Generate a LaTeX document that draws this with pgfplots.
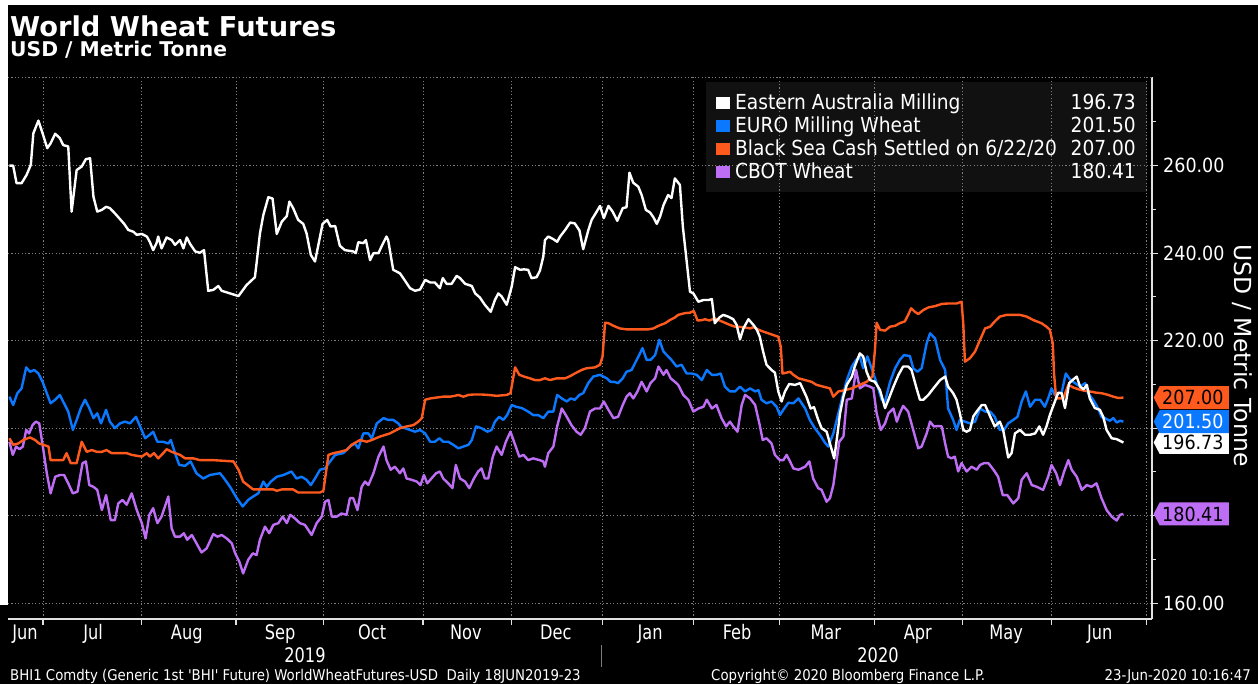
\documentclass[border=0pt]{standalone}
\usepackage{pgfplots}
\pgfplotsset{compat=1.18}
\usepackage{fontspec}
\setmainfont{DejaVu Sans Condensed}
\newfontfamily\tfont{DejaVu Sans}
\newfontfamily\mfont{DejaVu Sans Condensed}[FakeStretch=0.9]
\definecolor{cblue}{RGB}{10,120,255}
\definecolor{corange}{RGB}{255,90,30}
\definecolor{cpurple}{RGB}{190,110,245}
\definecolor{gridc}{RGB}{125,125,125}
\definecolor{legbg}{RGB}{17,17,17}
\definecolor{axc}{RGB}{225,225,225}
\newcommand{\fs}[1]{\fontsize{#1}{#1}\selectfont}
\newcommand{\vtag}[3]{%
  \fill[#1] ([xshift=1.7pt]axis cs:272.8,#2) -- ++(6pt,11.5pt) -- ++(69.3pt,0pt) -- ++(0pt,-23pt) -- ++(-69.3pt,0pt) -- cycle;
  \node[anchor=west, inner sep=0pt, text=#3, font=\fs{19.5}] at ([xshift=10pt]axis cs:272.8,#2) {#2};}
\begin{document}
\begin{tikzpicture}
\fill[black] (0pt,0pt) rectangle (1258pt,684pt);
\fill[white] (0pt,79pt) rectangle (8pt,684pt);
\fill[white] (0pt,679pt) rectangle (1258pt,684pt);
\fill[legbg] (706pt,602pt) rectangle (1147pt,492pt);
\begin{axis}[
  at={(8pt,65pt)}, anchor=south west,
  width=1144pt, height=542pt, scale only axis,
  xmin=0.67, xmax=272.8, ymin=156.39, ymax=280.27,
  axis x line*=bottom, axis y line*=right,
  axis line style={draw=axc, line width=1.3pt, -},
  xtick={9,32.5,54.9,75.8,99.4,120.5,142,163.8,184.1,206.7,227.8,249,271.4},
  xticklabels={},
  ytick={160,180,200,220,240,260},
  yticklabels={160.00,,,220.00,240.00,260.00},
  minor ytick={170,190,210,230,250,270},
  tick align=outside, major tick length=6pt, minor tick length=4pt,
  tick style={draw=axc, line width=1.1pt},
  grid=major,
  grid style={draw=gridc, line width=0.9pt, dash pattern=on 1.2pt off 2.2pt},
  yticklabel style={font=\fs{19.5}, text=white, anchor=west, inner sep=0pt, xshift=5pt},
  extra x ticks={4.7,20.9,43.2,65.4,87.3,109.6,131.0,153.4,174.1,195.2,217.1,238.1,260.4},
  extra x tick labels={Jun,Jul,Aug,Sep,Oct,Nov,Dec,Jan,Feb,Mar,Apr,May,Jun},
  extra x tick style={grid=none, major tick length=0pt,
    tick label style={font=\mfont\fs{20}, text=white, anchor=base, inner sep=0pt, yshift=-21pt}},
  clip mode=individual,
]
\draw[draw=gridc, line width=0.9pt, dash pattern=on 1.2pt off 2.2pt] (rel axis cs:0,1) -- (rel axis cs:1,1);
% CBOT Wheat
\addplot[cpurple, line width=2.4pt, line join=round] coordinates {
(1.0,196.9) (1.8,193.9) (2.6,195.8) (3.4,195.2) (4.2,195.8) (5.0,199.6) (5.7,198.8) (6.5,200.7) (7.3,201.5) (8.1,201.1) (8.9,196.2) (9.9,189.7) (10.8,185.1) (11.9,188.9) (13.0,189.3) (14.0,189.3) (15.0,187.4) (16.1,185.1) (17.2,185.5) (18.4,192.0) (19.2,192.4) (20.0,187.0) (21.0,186.6) (21.9,185.9) (23.0,181.3) (24.0,184.7) (25.1,179.0) (26.1,179.0) (26.9,182.8) (27.9,183.6) (28.9,182.5) (30.1,185.1) (31.3,181.3) (32.5,178.3) (33.4,174.8) (34.3,180.2) (35.2,181.7) (36.2,178.3) (37.2,179.8) (38.8,184.4) (39.6,177.1) (40.4,175.2) (41.6,175.2) (42.5,176.0) (43.3,174.5) (44.4,175.6) (45.5,173.7) (46.7,171.6) (47.9,172.5) (49.5,175.8) (50.5,175.2) (51.5,175.6) (52.7,174.8) (53.9,173.7) (54.7,171.4) (55.7,169.5) (56.6,166.8) (57.8,169.9) (58.9,171.4) (59.8,171.0) (60.6,174.5) (61.8,177.5) (62.8,176.0) (63.8,177.9) (65.0,178.3) (66.0,179.8) (67.0,178.3) (67.8,180.2) (68.9,179.4) (70.1,178.3) (71.3,177.9) (72.9,175.6) (74.1,178.3) (75.3,179.8) (76.1,183.2) (76.9,183.6) (77.7,179.8) (78.9,179.8) (80.0,180.5) (81.2,180.2) (82.0,184.0) (82.8,184.0) (83.8,181.3) (84.8,186.6) (85.6,187.8) (86.4,187.0) (87.6,189.7) (88.8,193.5) (90.0,195.8) (90.7,192.7) (91.7,190.5) (92.7,191.2) (93.9,189.7) (94.7,190.8) (95.5,188.5) (96.7,188.2) (97.9,187.8) (98.8,187.0) (99.6,189.3) (100.4,187.4) (101.4,188.5) (102.5,189.7) (103.4,190.1) (104.2,188.5) (105.4,187.4) (106.4,186.3) (107.2,191.6) (108.2,188.5) (109.4,187.8) (110.4,186.3) (111.5,188.5) (112.5,190.1) (113.3,190.8) (114.1,188.5) (114.9,188.5) (116.0,193.5) (116.9,195.8) (118.1,193.9) (119.1,196.9) (120.2,199.2) (121.3,196.2) (122.3,193.5) (123.3,193.9) (124.4,192.7) (125.6,193.1) (127.1,192.7) (128.0,192.4) (128.4,191.2) (129.2,194.3) (130.4,195.8) (131.3,200.4) (132.4,204.5) (133.6,202.6) (134.7,200.7) (135.9,199.2) (136.9,198.5) (137.9,200.0) (139.1,203.8) (140.3,204.5) (141.5,204.5) (142.4,206.1) (143.5,204.2) (144.7,202.3) (145.8,202.6) (146.9,205.3) (147.8,207.2) (148.6,208.0) (149.4,206.8) (150.4,208.4) (151.4,210.6) (152.6,208.4) (153.5,210.3) (154.6,211.4) (155.4,214.1) (156.6,212.2) (157.3,213.3) (158.3,211.4) (159.3,210.6) (160.1,209.9) (161.3,207.6) (162.5,206.5) (163.7,203.8) (164.9,204.5) (166.1,204.9) (166.9,206.5) (168.1,204.5) (169.2,205.3) (170.4,202.3) (171.5,200.4) (172.4,201.5) (173.2,200.4) (174.2,199.2) (175.2,205.3) (176.0,207.6) (177.2,206.8) (178.4,205.3) (179.4,201.1) (180.2,197.3) (181.1,197.7) (182.3,196.5) (183.1,193.9) (184.3,192.7) (185.1,192.7) (185.9,193.9) (186.7,192.4) (187.5,190.8) (188.7,190.5) (190.3,191.2) (191.3,192.4) (192.2,188.5) (193.4,186.3) (194.2,185.9) (195.4,183.2) (196.2,184.0) (197.0,187.0) (197.8,192.7) (198.4,196.9) (199.4,198.1) (200.2,206.5) (201.4,206.8) (202.4,213.3) (203.3,209.1) (204.5,209.9) (205.7,209.5) (206.5,209.1) (207.3,203.4) (208.3,199.6) (209.3,201.1) (210.1,203.4) (211.3,204.5) (212.1,201.5) (212.8,203.4) (213.6,205.1) (214.8,203.8) (216.0,199.6) (217.2,195.4) (218.0,195.8) (219.2,198.8) (220.0,201.5) (220.9,200.4) (222.0,200.5) (222.8,200.4) (223.6,196.5) (224.3,193.5) (225.1,193.1) (225.9,193.5) (226.7,190.1) (227.5,192.0) (228.7,190.1) (229.9,191.2) (231.1,190.5) (231.9,191.6) (232.8,192.0) (233.9,192.0) (235.1,190.5) (236.2,188.9) (237.3,184.7) (238.4,184.7) (239.8,182.8) (241.0,184.0) (241.8,188.2) (243.0,189.7) (244.2,187.0) (245.4,186.6) (246.9,185.9) (248.1,188.9) (248.9,191.6) (250.0,189.7) (250.9,187.0) (251.9,190.1) (252.9,192.7) (253.7,190.5) (254.9,188.9) (256.1,185.9) (257.3,187.0) (258.4,186.6) (259.6,187.4) (260.8,184.0) (262.0,181.3) (263.2,179.8) (264.4,178.9) (265.2,180.2) (266.0,180.41)};
% EURO Milling Wheat
\addplot[cblue, line width=2.4pt, line join=round] coordinates {
(1.0,207.2) (1.9,205.3) (2.9,208.0) (3.9,209.1) (5.0,213.9) (5.9,212.9) (6.9,213.3) (7.9,212.5) (8.9,210.6) (9.9,208.0) (10.8,205.7) (11.9,206.5) (13.0,207.6) (14.0,205.7) (15.0,203.8) (16.1,199.6) (17.0,201.9) (18.0,204.6) (19.0,206.5) (20.0,204.6) (21.0,202.3) (21.9,203.4) (22.8,201.1) (24.0,204.2) (24.9,201.5) (26.1,200.0) (27.3,201.1) (28.5,201.5) (29.7,201.1) (31.1,202.6) (32.1,200.4) (33.3,197.7) (34.4,198.5) (35.2,199.2) (36.2,196.9) (37.6,196.9) (38.8,196.5) (39.4,197.3) (40.4,194.3) (41.4,191.6) (42.8,191.4) (44.1,192.4) (45.5,189.7) (47.1,188.5) (48.7,189.3) (51.1,189.7) (52.1,188.5) (53.5,186.6) (55.1,184.0) (56.5,182.1) (57.8,183.6) (59.0,184.4) (60.2,185.1) (61.4,187.8) (62.2,186.6) (63.2,187.8) (64.6,188.9) (66.2,189.3) (68.1,190.1) (69.3,188.5) (70.5,188.9) (71.7,188.2) (72.7,187.0) (73.7,188.5) (74.9,190.5) (76.1,190.8) (77.3,192.4) (78.5,193.9) (80.4,194.3) (82.0,195.8) (83.2,196.5) (84.0,195.4) (85.2,198.8) (86.4,198.8) (87.2,197.7) (88.4,201.1) (90.0,202.3) (91.1,201.9) (92.3,201.9) (93.5,201.1) (94.3,200.2) (95.1,200.0) (96.3,199.6) (97.5,199.2) (98.7,199.6) (99.9,198.8) (101.1,196.9) (102.2,196.9) (103.3,197.7) (104.2,196.9) (105.4,196.9) (106.6,196.2) (107.8,195.4) (109.0,195.8) (110.2,196.2) (111.0,197.3) (112.0,200.4) (113.3,200.0) (114.7,199.2) (115.7,199.6) (116.5,201.5) (117.5,202.6) (118.5,201.9) (119.4,203.0) (120.5,205.3) (121.5,204.9) (122.9,204.6) (124.4,203.8) (125.6,203.0) (126.8,203.0) (128.0,202.3) (129.2,203.8) (130.4,203.8) (131.3,207.6) (132.4,206.8) (133.6,206.1) (134.5,206.8) (135.5,206.5) (136.6,207.6) (137.5,208.0) (138.7,210.3) (139.9,211.8) (141.5,212.2) (143.1,211.4) (144.0,210.6) (144.8,210.6) (145.8,210.3) (146.9,211.4) (147.8,212.9) (149.0,213.3) (149.8,214.8) (150.8,216.7) (151.6,218.3) (152.6,215.6) (153.5,215.6) (154.6,216.7) (155.6,220.2) (156.6,217.5) (157.7,216.4) (158.5,215.6) (159.7,214.1) (160.9,214.5) (162.1,212.5) (163.3,212.5) (164.5,212.2) (165.7,211.0) (166.9,213.3) (168.1,212.2) (169.2,212.2) (170.2,212.5) (171.2,209.5) (172.4,208.4) (173.6,208.4) (174.8,209.5) (176.0,208.4) (177.2,209.1) (178.4,208.4) (179.2,208.7) (179.9,206.5) (181.1,205.7) (182.3,206.1) (183.5,204.9) (184.3,203.0) (185.1,204.2) (186.3,205.8) (187.5,205.7) (188.7,206.8) (190.3,204.5) (191.4,201.9) (192.6,200.0) (193.8,198.5) (195.0,196.7) (195.8,195.8) (197.0,198.8) (198.2,203.4) (199.4,208.0) (200.2,211.0) (201.4,214.1) (202.4,215.6) (203.3,216.4) (204.1,213.7) (205.1,216.4) (206.1,213.7) (207.3,210.3) (208.5,206.5) (209.3,206.1) (210.5,210.6) (211.7,213.7) (212.8,215.6) (213.8,216.7) (215.2,216.5) (216.0,213.7) (217.0,212.9) (218.0,213.7) (219.2,219.4) (220.0,221.7) (221.2,220.5) (222.4,215.6) (223.6,213.3) (224.3,204.5) (225.5,201.9) (226.3,199.6) (227.1,201.9) (228.3,201.5) (229.5,201.1) (230.7,201.5) (231.9,204.5) (233.1,203.8) (234.3,203.8) (235.4,202.6) (236.6,199.6) (237.6,199.6) (238.6,201.1) (239.8,201.9) (240.8,202.6) (241.8,206.1) (242.8,208.4) (243.8,204.9) (245.0,206.5) (246.2,206.5) (247.3,204.9) (248.1,206.8) (248.9,209.1) (249.7,207.6) (250.5,208.0) (251.3,208.1) (252.3,212.5) (253.4,211.0) (254.5,210.3) (255.7,209.5) (256.9,210.3) (257.6,208.0) (258.8,206.5) (260.0,204.5) (260.8,202.6) (261.6,202.3) (262.8,201.7) (263.6,202.3) (264.4,201.3) (265.2,201.7) (266.0,201.5)};
% Black Sea
\addplot[corange, line width=2.4pt, line join=round] coordinates {
(1.0,197.7) (1.9,196.2) (3.1,196.5) (4.3,197.3) (5.9,197.9) (7.1,197.3) (8.1,196.5) (9.1,196.2) (10.3,195.8) (10.8,192.7) (11.9,192.7) (13.8,192.7) (14.6,194.3) (15.6,192.0) (17.0,192.0) (18.2,196.9) (19.4,194.6) (20.6,195.0) (21.8,194.6) (23.0,194.6) (24.1,195.0) (25.3,194.3) (28.9,194.3) (30.1,193.9) (31.3,193.7) (32.5,193.5) (33.7,194.3) (34.4,193.5) (35.4,194.3) (36.4,193.1) (37.6,194.3) (38.4,195.2) (39.6,194.6) (41.6,193.9) (42.8,193.1) (44.8,193.1) (46.3,192.7) (49.5,192.7) (54.3,192.4) (55.5,190.5) (56.6,187.8) (59.0,186.0) (63.8,186.0) (64.6,185.7) (65.8,186.0) (68.5,186.0) (69.7,185.3) (74.9,185.3) (75.7,185.7) (76.9,193.9) (78.1,194.3) (79.6,194.6) (81.2,195.0) (82.4,196.2) (84.4,197.3) (86.0,196.9) (87.2,197.3) (89.2,198.1) (91.5,198.8) (93.9,200.0) (95.5,200.4) (97.1,200.7) (98.3,201.5) (99.1,202.3) (99.9,206.5) (101.1,206.8) (102.6,207.0) (104.2,207.2) (105.8,207.2) (107.0,207.4) (107.8,207.6) (109.0,207.2) (110.2,207.6) (111.4,207.7) (113.3,207.7) (114.9,207.6) (116.9,207.4) (119.3,207.6) (120.2,208.0) (121.3,213.9) (122.3,212.2) (123.4,211.8) (124.8,211.4) (126.0,211.0) (127.2,211.0) (128.4,211.4) (129.6,211.0) (131.2,211.4) (133.2,211.4) (134.4,211.9) (135.5,212.5) (137.1,213.3) (138.3,213.7) (140.3,213.9) (141.5,214.5) (142.1,216.4) (142.7,224.1) (143.5,224.0) (144.7,223.4) (146.2,222.8) (147.8,222.6) (151.0,222.6) (153.0,222.6) (154.2,222.8) (155.4,223.4) (157.0,224.0) (158.1,224.7) (159.3,225.3) (160.1,225.9) (161.7,226.3) (162.9,226.4) (163.8,226.8) (164.7,224.6) (165.7,224.7) (166.5,224.9) (167.5,224.6) (168.8,225.1) (170.0,224.6) (171.2,224.1) (172.4,223.6) (173.6,223.2) (175.6,223.1) (177.2,222.8) (178.0,223.1) (179.2,222.5) (180.3,222.1) (181.5,221.7) (182.7,221.3) (183.9,220.9) (184.5,218.6) (184.9,212.5) (185.9,212.7) (186.7,212.9) (187.5,212.2) (188.7,211.4) (190.3,211.0) (191.8,210.6) (193.0,209.9) (194.6,209.5) (196.2,209.1) (197.0,207.2) (198.2,208.4) (199.8,208.7) (201.4,209.1) (203.3,209.9) (204.9,210.6) (206.3,211.8) (206.9,217.9) (207.3,224.1) (208.1,222.5) (209.3,222.3) (210.5,223.2) (211.7,223.4) (212.8,224.0) (214.0,224.4) (214.8,225.9) (215.5,227.4) (216.4,226.6) (217.2,226.1) (218.4,227.0) (219.6,227.6) (221.2,227.9) (222.8,228.4) (224.3,228.5) (226.3,228.5) (227.5,228.9) (227.9,224.0) (228.3,215.2) (229.5,216.0) (230.7,217.5) (231.9,220.2) (233.1,222.8) (234.3,223.2) (235.4,224.4) (236.6,225.5) (238.2,225.9) (239.8,225.9) (241.4,225.9) (243.0,225.5) (244.6,224.7) (246.5,224.0) (247.7,223.2) (248.5,222.5) (249.2,219.4) (249.5,212.5) (250.0,206.8) (251.7,206.8) (252.3,208.4) (252.9,209.9) (254.1,209.3) (255.3,208.9) (256.5,208.6) (258.0,208.4) (259.6,208.1) (260.8,208.0) (262.4,207.6) (263.6,207.2) (264.8,206.9) (266.0,207.0)};
% Eastern Australia
\addplot[white, line width=2.4pt, line join=round] coordinates {
(1.0,260.0) (1.9,260.0) (2.7,256.0) (3.9,256.0) (5.1,257.9) (6.1,260.2) (6.7,267.4) (7.9,270.3) (8.9,267.4) (10.0,264.0) (10.8,265.1) (11.9,267.3) (13.0,266.3) (13.8,264.7) (15.0,264.4) (15.8,249.5) (17.0,259.0) (18.2,259.8) (19.2,261.5) (20.2,261.7) (21.0,252.9) (21.9,249.5) (23.0,249.9) (24.0,250.6) (24.9,250.3) (26.1,249.1) (27.3,247.8) (28.3,246.7) (29.3,245.3) (30.5,244.9) (31.3,244.2) (32.5,244.4) (33.7,243.8) (34.4,242.6) (35.2,240.7) (36.0,242.3) (36.4,243.8) (37.2,241.1) (38.4,243.6) (39.6,243.0) (40.4,241.9) (41.6,243.0) (42.4,241.1) (43.2,243.6) (44.0,242.1) (45.2,240.4) (46.3,240.1) (47.3,240.7) (48.3,231.4) (49.5,231.6) (50.7,232.5) (51.5,231.4) (53.5,230.8) (55.5,230.2) (57.4,232.7) (59.4,234.5) (59.8,237.7) (60.6,244.5) (61.4,248.7) (62.6,252.8) (63.6,252.5) (64.6,244.4) (65.8,247.2) (67.0,248.5) (67.6,251.8) (68.5,250.3) (69.7,247.6) (70.9,246.7) (71.7,244.5) (72.7,239.6) (73.7,238.1) (74.9,243.8) (75.5,246.7) (76.6,247.6) (77.4,246.1) (78.5,246.2) (79.6,241.7) (80.8,240.7) (82.8,240.4) (83.4,240.0) (84.0,242.5) (85.2,242.3) (85.8,243.0) (86.8,238.4) (87.6,240.0) (88.8,240.0) (89.6,241.7) (90.7,243.8) (91.1,243.0) (92.3,236.2) (93.9,235.4) (94.7,234.3) (96.3,232.0) (97.5,231.4) (98.7,231.7) (99.9,233.9) (101.1,233.3) (102.2,233.3) (103.4,232.0) (104.1,234.3) (105.0,233.0) (106.2,233.0) (107.4,234.8) (108.2,234.3) (109.4,233.0) (111.0,232.5) (111.8,230.8) (112.9,229.9) (114.1,228.2) (115.5,226.6) (116.5,229.3) (117.3,230.8) (118.1,230.1) (119.3,228.2) (120.5,232.4) (121.3,236.8) (122.5,236.2) (123.4,236.3) (124.4,236.2) (125.2,234.3) (126.4,234.5) (127.2,236.0) (128.0,239.2) (128.4,243.0) (129.2,243.8) (130.4,243.2) (131.3,242.6) (132.0,243.8) (133.2,245.3) (134.4,247.0) (135.5,246.8) (136.6,245.2) (137.5,240.9) (138.7,245.2) (139.5,247.6) (140.7,249.5) (141.5,250.8) (142.4,248.0) (143.5,250.8) (144.5,249.5) (145.6,247.4) (146.9,250.3) (147.8,250.5) (148.5,258.4) (149.4,256.1) (150.6,255.2) (151.4,253.3) (152.4,249.9) (153.4,249.3) (154.2,248.2) (155.0,246.7) (155.8,248.4) (156.6,251.0) (157.7,253.3) (158.5,252.6) (159.3,257.1) (160.5,255.6) (161.2,246.1) (161.9,240.0) (162.9,231.2) (163.7,230.8) (164.9,228.9) (166.1,229.3) (167.3,229.3) (168.1,229.5) (168.8,224.0) (169.9,225.3) (170.8,225.9) (172.0,225.5) (173.2,224.9) (174.0,223.6) (174.8,220.3) (175.6,222.8) (176.8,224.9) (178.0,223.6) (178.8,222.5) (179.5,220.9) (180.3,217.5) (181.1,214.5) (182.3,213.3) (183.1,212.7) (183.9,208.4) (184.7,206.1) (185.5,208.4) (186.5,210.1) (187.9,209.9) (189.1,210.3) (190.6,207.2) (191.6,204.5) (192.4,204.8) (193.4,201.9) (194.2,200.0) (195.4,199.2) (196.4,195.8) (197.2,193.1) (197.8,197.3) (198.6,203.4) (199.4,207.2) (200.2,209.9) (201.4,211.8) (202.1,214.1) (203.3,217.1) (204.1,216.4) (204.9,212.9) (205.7,211.0) (206.9,210.6) (208.1,208.7) (209.3,204.6) (210.1,206.5) (211.3,209.5) (212.5,212.2) (213.6,214.1) (214.8,214.1) (215.6,213.3) (216.8,209.1) (217.6,206.5) (218.4,206.5) (219.6,207.6) (220.8,209.1) (222.4,211.0) (223.6,211.8) (224.3,209.5) (225.5,208.0) (226.3,206.5) (227.1,203.4) (227.9,199.6) (228.7,199.2) (229.5,199.6) (230.3,202.7) (231.1,203.8) (232.3,205.3) (233.1,205.3) (234.3,202.7) (235.4,200.4) (236.6,201.5) (237.4,199.6) (238.6,193.3) (239.4,194.3) (240.2,198.8) (241.4,199.6) (242.6,198.5) (243.8,198.5) (245.0,198.8) (246.0,200.4) (246.9,198.5) (247.7,200.4) (248.5,203.0) (249.7,206.1) (250.5,208.1) (251.3,208.0) (252.1,204.6) (253.1,210.3) (253.9,211.0) (254.9,211.8) (255.7,209.5) (256.5,208.9) (257.3,209.9) (258.0,206.8) (259.2,204.6) (260.4,204.2) (261.2,202.6) (262.0,199.6) (263.2,197.7) (264.4,197.5) (266.0,196.73)};
\vtag{cpurple}{180.41}{black}
\vtag{white}{196.73}{black}
\vtag{cblue}{201.50}{white}
\vtag{corange}{207.00}{black}
\end{axis}
% titles
\node[anchor=base west, inner sep=0pt, text=white, font=\tfont\bfseries\fs{27.3}] at (10pt,647pt) {World Wheat Futures};
\node[anchor=base west, inner sep=0pt, text=white, font=\tfont\bfseries\fs{20.3}] at (10pt,627pt) {USD / Metric Tonne};
% legend
\begin{scope}[font=\fs{20.7}, text=white]
\fill[white] (716pt,587pt) rectangle (730pt,575pt);
\node[anchor=base west, inner sep=0pt] at (735pt,574pt) {Eastern Australia Milling};
\node[anchor=base east, inner sep=0pt] at (1136pt,574pt) {196.73};
\fill[cblue] (716pt,564pt) rectangle (730pt,552pt);
\node[anchor=base west, inner sep=0pt] at (735pt,551pt) {EURO Milling Wheat};
\node[anchor=base east, inner sep=0pt] at (1136pt,551pt) {201.50};
\fill[corange] (716pt,541pt) rectangle (730pt,529pt);
\node[anchor=base west, inner sep=0pt] at (735pt,528pt) {Black Sea Cash Settled on 6/22/20};
\node[anchor=base east, inner sep=0pt] at (1136pt,528pt) {207.00};
\fill[cpurple] (716pt,518pt) rectangle (730pt,506pt);
\node[anchor=base west, inner sep=0pt] at (735pt,505pt) {CBOT Wheat};
\node[anchor=base east, inner sep=0pt] at (1136pt,505pt) {180.41};
\end{scope}
% right axis label
\node[rotate=-90, text=white, font=\tfont\fs{23.5}, inner sep=0pt] at (1242pt,328pt) {USD / Metric Tonne};
% years
\node[anchor=base, text=white, font=\mfont\fs{20}, inner sep=0pt] at (305pt,21pt) {2019};
\node[anchor=base, text=white, font=\mfont\fs{20}, inner sep=0pt] at (878pt,21pt) {2020};
\draw[gridc, line width=1pt] (601pt,39pt) -- (601pt,17pt);
% footer
\node[anchor=base west, text=white, font=\fs{14.8}, inner sep=0pt] at (10pt,3pt) {BHI1 Comdty (Generic 1st \textquotesingle BHI\textquotesingle\ Future) WorldWheatFutures-USD\ \ Daily 18JUN2019-23};
\node[anchor=base west, text=white, font=\fs{14.8}, inner sep=0pt] at (711pt,3pt) {Copyright© 2020 Bloomberg Finance L.P.};
\node[anchor=base east, text=white, font=\fs{14.8}, inner sep=0pt] at (1251pt,3pt) {23-Jun-2020 10:16:47};
\end{tikzpicture}
\end{document}
